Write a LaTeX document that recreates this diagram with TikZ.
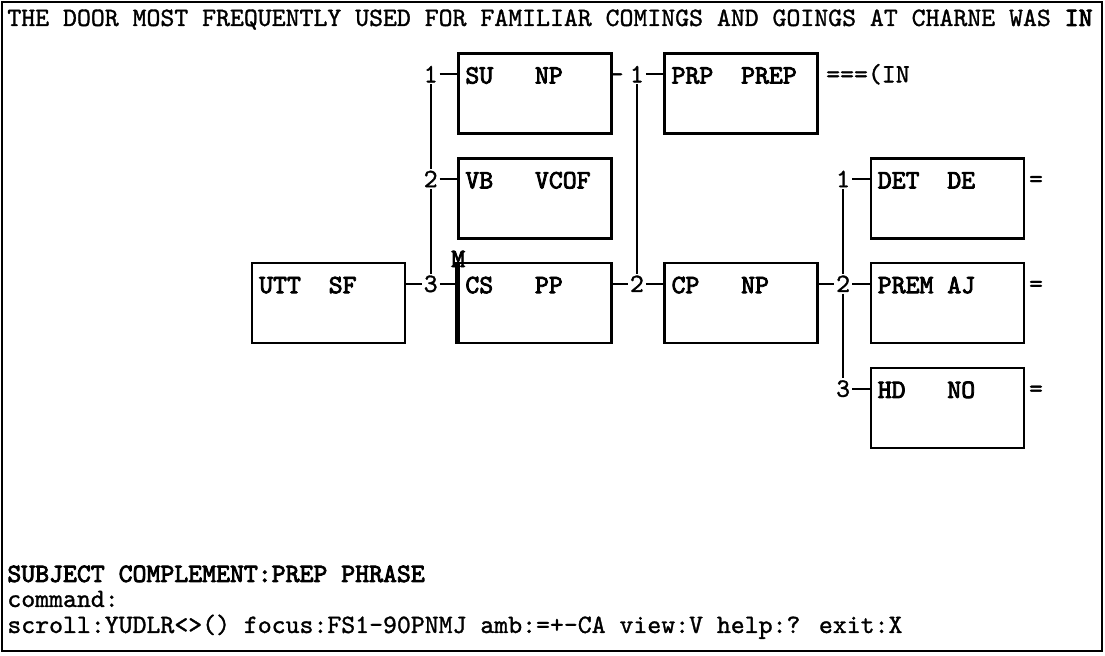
\documentclass[tikz,border=0pt]{standalone}
\usepackage{fontspec}
\usetikzlibrary{positioning, calc}
\newfontfamily\termreg{lmmono10-regular.otf}[FakeBold=1.2]
\newfontfamily\termbold{lmmono10-regular.otf}[FakeBold=3]
\newcommand{\termfont}{\fontsize{13.25pt}{16pt}\selectfont\termreg}
\newcommand{\lbl}[2]{\makebox[2.625em][l]{#1}#2}

\begin{document}
\begin{tikzpicture}[
    x=0.5pt, y=0.5pt,
    node distance=11.2pt and 25.4pt,
    box/.style={rectangle, draw, line width=1.2pt, inner xsep=3.5pt, inner ysep=0pt,
                text width=69.5pt, text height=15pt, text depth=25pt, align=left,
                font=\termfont\termbold},
    num/.style={inner sep=0.8pt, anchor=base, font=\termfont},
    txt/.style={inner sep=0pt, anchor=base west, font=\termfont},
    link/.style={line width=1.1pt},
]
    \useasboundingbox (0,0) rectangle (1105,656);
    \draw[line width=1pt] (2,5) rectangle (1102,654);

    \node[txt] (title) at (7,630) {THE DOOR MOST FREQUENTLY USED FOR FAMILIAR COMINGS AND GOINGS AT CHARNE WAS {\termbold IN}};

    \node[box, anchor=north west] (utt) at (251,394) {\lbl{UTT}{SF}};
    \node[box, right=of utt] (cs) {\lbl{CS}{PP}};
    \node[box, above=of cs] (vb) {\lbl{VB}{VCOF}};
    \node[box, above=of vb] (su) {\lbl{SU}{NP}};
    \node[box, right=of su] (prp) {\lbl{PRP}{PREP}};
    \node[box, right=of cs] (cp) {\lbl{CP}{NP}};
    \node[box, right=of cp] (prem) {\lbl{PREM}{AJ}};
    \node[box, above=of prem] (det) {\lbl{DET}{DE}};
    \node[box, below=of prem] (hd) {\lbl{HD}{NO}};

    \draw[line width=2.2pt] (cs.north west) -- (cs.south west);
    \node[font=\termfont\termbold, inner sep=0pt] (mark) at ($(cs.north west)+(1,3)$) {M};

    \node[num] (a1) at ($(su.north west)+(-26.5,-30)$) {1};
    \node[num] (a2) at ($(vb.north west)+(-26.5,-30)$) {2};
    \node[num] (a3) at ($(cs.north west)+(-26.5,-30)$) {3};
    \node[num] (b1) at ($(prp.north west)+(-26.5,-30)$) {1};
    \node[num] (b2) at ($(cp.north west)+(-26.5,-30)$) {2};
    \node[num] (c1) at ($(det.north west)+(-26.5,-30)$) {1};
    \node[num] (c2) at ($(prem.north west)+(-26.5,-30)$) {2};
    \node[num] (c3) at ($(hd.north west)+(-26.5,-30)$) {3};

    \draw[link] (a1) -- (a1 -| su.west);
    \draw[link] (a2) -- (a2 -| vb.west);
    \draw[link] (utt.east |- a3) -- (a3) -- (a3 -| cs.west);
    \draw[link] (a1) -- (a2) -- (a3);

    \draw[link] (b1) -- (b1 -| prp.west);
    \draw[link] (cs.east |- b2) -- (b2) -- (b2 -| cp.west);
    \draw[link] (b1) -- (b2);

    \draw[link] (c1) -- (c1 -| det.west);
    \draw[link] (cp.east |- c2) -- (c2) -- (c2 -| prem.west);
    \draw[link] (c3) -- (c3 -| hd.west);
    \draw[link] (c1) -- (c2) -- (c3);

    \node[num] (sutick) at ($(su.north east)+(4,-30)$) {-};
    \node[txt] (prpval) at ($(prp.north east)+(7,-30)$) {===(IN};
    \node[num] (detval) at ($(det.north east)+(11,-30)$) {=};
    \node[num] (premval) at ($(prem.north east)+(11,-30)$) {=};
    \node[num] (hdval) at ($(hd.north east)+(11,-30)$) {=};

    \node[txt, font=\termfont\termbold] (status) at (7,74) {SUBJECT COMPLEMENT:PREP PHRASE};
    \node[txt] (cmd) at (7,49) {command:};
    \node[txt] (keys) at (7,23) {scroll:YUDLR<>() focus:FS1-90PNMJ amb:=+-CA view:V help:? exit:X};
\end{tikzpicture}
\end{document}
